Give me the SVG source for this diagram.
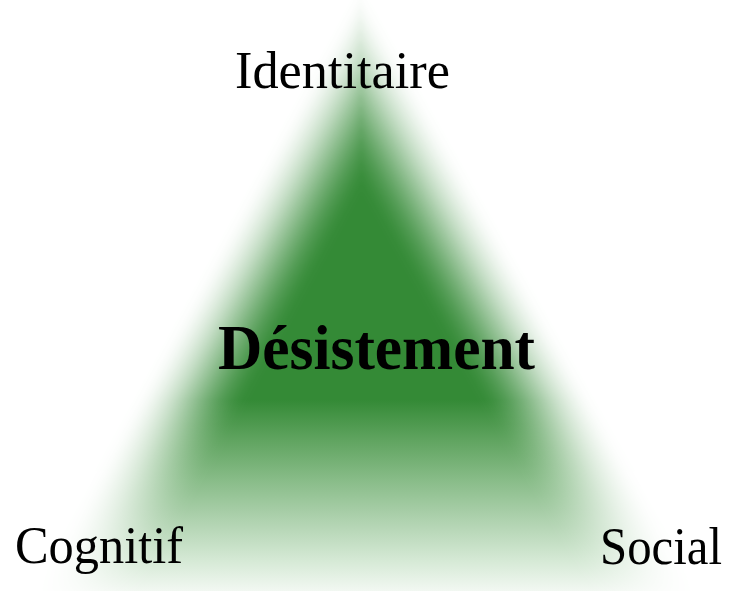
<svg xmlns="http://www.w3.org/2000/svg" xmlns:xlink="http://www.w3.org/1999/xlink" width="732" height="591" viewBox="0 0 732 591">
<style>
.lbl{font-family:"Liberation Serif","Times New Roman",serif;fill:#000;}
.m{fill:#fff;}
</style>
<defs>
<linearGradient id="g" gradientUnits="userSpaceOnUse" x1="0" y1="0" x2="0" y2="591">
<stop offset="0" stop-color="#348a36"/>
<stop offset="0.677" stop-color="#348a36"/>
<stop offset="0.745" stop-color="#60a460"/>
<stop offset="0.812" stop-color="#88bc88"/>
<stop offset="0.88" stop-color="#afd2af"/>
<stop offset="0.948" stop-color="#d5e9d5"/>
<stop offset="1" stop-color="#f2f8f2"/>
</linearGradient>
<polygon id="tri" points="360,-15 -28.8,700 763.2,700"/>
<filter id="b" filterUnits="userSpaceOnUse" x="-100" y="-100" width="932" height="900">
<feGaussianBlur stdDeviation="2"/>
</filter>
<mask id="soft" maskUnits="userSpaceOnUse" x="0" y="0" width="732" height="591">
<g class="m" filter="url(#b)">
<use xlink:href="#tri" fill-opacity="0.00725"/>
<use xlink:href="#tri" fill-opacity="0.0209" transform="translate(363.7 466.6) scale(0.97751) translate(-363.7 -466.6)"/>
<use xlink:href="#tri" fill-opacity="0.0337" transform="translate(363.7 466.6) scale(0.95501) translate(-363.7 -466.6)"/>
<use xlink:href="#tri" fill-opacity="0.0460" transform="translate(363.7 466.6) scale(0.93252) translate(-363.7 -466.6)"/>
<use xlink:href="#tri" fill-opacity="0.0583" transform="translate(363.7 466.6) scale(0.91002) translate(-363.7 -466.6)"/>
<use xlink:href="#tri" fill-opacity="0.0708" transform="translate(363.7 466.6) scale(0.88753) translate(-363.7 -466.6)"/>
<use xlink:href="#tri" fill-opacity="0.0839" transform="translate(363.7 466.6) scale(0.86504) translate(-363.7 -466.6)"/>
<use xlink:href="#tri" fill-opacity="0.0978" transform="translate(363.7 466.6) scale(0.84254) translate(-363.7 -466.6)"/>
<use xlink:href="#tri" fill-opacity="0.1130" transform="translate(363.7 466.6) scale(0.82005) translate(-363.7 -466.6)"/>
<use xlink:href="#tri" fill-opacity="0.1301" transform="translate(363.7 466.6) scale(0.79755) translate(-363.7 -466.6)"/>
<use xlink:href="#tri" fill-opacity="0.1495" transform="translate(363.7 466.6) scale(0.77506) translate(-363.7 -466.6)"/>
<use xlink:href="#tri" fill-opacity="0.1723" transform="translate(363.7 466.6) scale(0.75257) translate(-363.7 -466.6)"/>
<use xlink:href="#tri" fill-opacity="0.1996" transform="translate(363.7 466.6) scale(0.73007) translate(-363.7 -466.6)"/>
<use xlink:href="#tri" fill-opacity="0.2334" transform="translate(363.7 466.6) scale(0.70758) translate(-363.7 -466.6)"/>
<use xlink:href="#tri" fill-opacity="0.2766" transform="translate(363.7 466.6) scale(0.68508) translate(-363.7 -466.6)"/>
<use xlink:href="#tri" fill-opacity="0.3344" transform="translate(363.7 466.6) scale(0.66259) translate(-363.7 -466.6)"/>
<use xlink:href="#tri" fill-opacity="0.4159" transform="translate(363.7 466.6) scale(0.64010) translate(-363.7 -466.6)"/>
<use xlink:href="#tri" fill-opacity="0.5391" transform="translate(363.7 466.6) scale(0.61760) translate(-363.7 -466.6)"/>
<use xlink:href="#tri" fill-opacity="0.7411" transform="translate(363.7 466.6) scale(0.59511) translate(-363.7 -466.6)"/>
<use xlink:href="#tri" fill-opacity="1" transform="translate(363.7 466.6) scale(0.57261) translate(-363.7 -466.6)"/>
</g>
</mask>
</defs>
<rect width="732" height="591" fill="#fff"/>
<g id="triangle">
<rect x="0" y="0" width="732" height="591" fill="url(#g)" mask="url(#soft)"/>
</g>
<g id="connectors"/>
<g id="node-identitaire"><text class="lbl" x="235" y="88" font-size="53" textLength="215" lengthAdjust="spacingAndGlyphs">Identitaire</text></g>
<g id="node-desistement"><text class="lbl" x="218" y="369" font-size="63" font-weight="bold" textLength="317" lengthAdjust="spacingAndGlyphs">Désistement</text></g>
<g id="node-cognitif"><text class="lbl" x="15" y="563" font-size="52" textLength="168" lengthAdjust="spacingAndGlyphs">Cognitif</text></g>
<g id="node-social"><text class="lbl" x="600" y="564" font-size="52" textLength="122" lengthAdjust="spacingAndGlyphs">Social</text></g>
</svg>
